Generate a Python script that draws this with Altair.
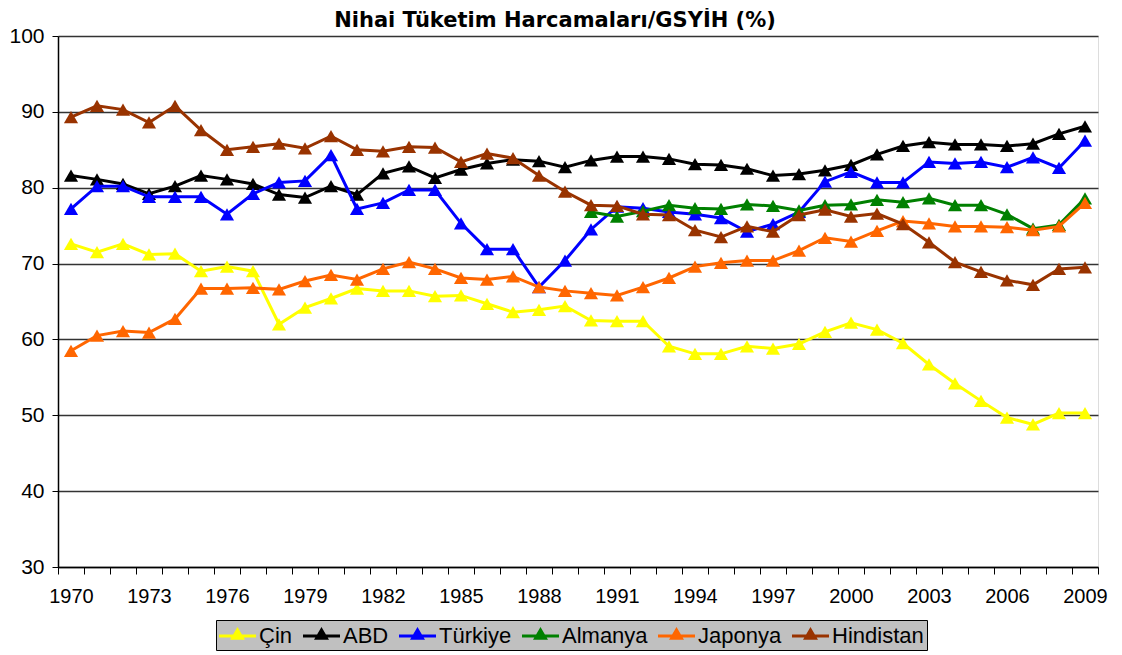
import altair as alt
import pandas as pd

years = list(range(1970, 2010))
almanya_years = list(range(1990, 2010))

series_names = ["Çin", "ABD", "Türkiye", "Almanya", "Japonya", "Hindistan"]
series_colors = ["#FFFF00", "#000000", "#0000FF", "#008000", "#FF6600", "#993300"]

cin = [72.6, 71.5, 72.6, 71.2, 71.3, 69.0, 69.6, 69.0, 62.0, 64.2,
       65.4, 66.7, 66.4, 66.4, 65.7, 65.8, 64.7, 63.6, 63.9, 64.4,
       62.5, 62.4, 62.4, 59.1, 58.1, 58.1, 59.1, 58.8, 59.4, 61.0,
       62.2, 61.3, 59.5, 56.7, 54.2, 51.9, 49.7, 48.8, 50.3, 50.3]
abd = [81.6, 81.1, 80.5, 79.2, 80.2, 81.6, 81.1, 80.5, 79.1, 78.7,
       80.2, 79.1, 81.9, 82.8, 81.3, 82.4, 83.2, 83.7, 83.5, 82.7,
       83.6, 84.1, 84.1, 83.8, 83.1, 83.0, 82.5, 81.6, 81.8, 82.3,
       83.0, 84.4, 85.5, 86.0, 85.7, 85.7, 85.5, 85.8, 87.1, 88.1]
turkiye = [77.2, 80.2, 80.2, 78.8, 78.8, 78.8, 76.5, 79.2, 80.7, 80.9,
           84.3, 77.2, 78.0, 79.7, 79.7, 75.3, 71.9, 71.9, 66.9, 70.4,
           74.5, 77.5, 77.3, 76.8, 76.5, 76.0, 74.2, 75.2, 76.8, 80.8,
           82.1, 80.7, 80.7, 83.4, 83.2, 83.4, 82.7, 84.0, 82.6, 86.2]
almanya = [76.8, 76.2, 76.9, 77.7, 77.3, 77.2, 77.8, 77.6, 77.0, 77.7,
           77.8, 78.4, 78.1, 78.6, 77.7, 77.7, 76.5, 74.6, 75.1, 78.6]
japonya = [58.5, 60.5, 61.1, 60.9, 62.7, 66.7, 66.7, 66.8, 66.6, 67.7,
           68.5, 67.9, 69.3, 70.2, 69.3, 68.1, 67.9, 68.3, 66.9, 66.4,
           66.1, 65.8, 66.9, 68.1, 69.6, 70.1, 70.4, 70.4, 71.7, 73.4,
           72.9, 74.3, 75.6, 75.3, 74.9, 74.9, 74.8, 74.4, 74.9, 78.0]
hindistan = [89.3, 90.8, 90.3, 88.6, 90.8, 87.6, 85.0, 85.4, 85.8, 85.2,
             86.8, 85.0, 84.8, 85.4, 85.3, 83.4, 84.5, 83.9, 81.6, 79.5,
             77.7, 77.6, 76.5, 76.4, 74.4, 73.5, 74.9, 74.2, 76.4, 77.1,
             76.2, 76.6, 75.2, 72.8, 70.2, 68.9, 67.8, 67.2, 69.3, 69.5]

y_ticks = [30, 40, 50, 60, 70, 80, 90, 100]
x_label_years = list(range(1970, 2010, 3))

series_data = [
    ("Çin", years, cin),
    ("ABD", years, abd),
    ("Türkiye", years, turkiye),
    ("Almanya", almanya_years, almanya),
    ("Japonya", years, japonya),
    ("Hindistan", years, hindistan),
]

rows = []
for name, yrs, vals in series_data:
    for yr, v in zip(yrs, vals):
        rows.append({"Yil": yr, "Ulke": name, "Deger": v})
df = pd.DataFrame(rows)

FONT = "Liberation Sans"

boundaries = [1969.5 + i for i in range(41)]

x_enc = alt.X(
    "Yil:Q",
    scale=alt.Scale(domain=[1969.5, 2009.5], nice=False, zero=False),
    axis=alt.Axis(
        title=None,
        values=boundaries + x_label_years,
        grid=False,
        labelExpr="datum.value % 1 == 0 ? format(datum.value, 'd') : ''",
        labelOverlap=False,
        labelFlush=False,
        labelFont=FONT,
        labelFontSize=20,
        labelColor="#000000",
        labelPadding=12,
        tickSize=7,
        tickColor="#000000",
        tickWidth=1,
        tickOpacity={"condition": {"test": "datum.value % 1 == 0", "value": 0}, "value": 1},
        domainColor="#000000",
        domainWidth=1.5,
    ),
)

y_enc = alt.Y(
    "Deger:Q",
    scale=alt.Scale(domain=[30, 100], nice=False, zero=False),
    axis=alt.Axis(
        title=None,
        values=y_ticks,
        grid=True,
        gridColor="#333333",
        gridWidth=1.5,
        labelFont=FONT,
        labelFontSize=21,
        labelColor="#000000",
        labelPadding=8,
        tickSize=6,
        tickColor="#000000",
        domainColor="#000000",
        domainWidth=1.5,
    ),
)

# legend symbol: a line with a triangle marker on it (unit box of the symbol is 26px)
legend_path = "M-1,-0.115H1.846V0.115H-1Z M0.423,-0.69L1,0.28H-0.154Z"

color_enc = alt.Color(
    "Ulke:N",
    scale=alt.Scale(domain=series_names, range=series_colors),
    sort=series_names,
    legend=alt.Legend(
        orient="none",
        legendX=158,
        legendY=584,
        direction="horizontal",
        columns=6,
        title=None,
        symbolType=legend_path,
        symbolSize=676,
        symbolStrokeWidth=0,
        symbolOpacity=1,
        labelFont=FONT,
        labelFontSize=22,
        labelColor="#000000",
        labelOffset=14,
        columnPadding=10,
        padding=3,
        fillColor="#C0C0C0",
        strokeColor="#000000",
    ),
)

base = alt.Chart(df)
layers = []
for name in series_names:
    sub = base.transform_filter(alt.datum.Ulke == name)
    layers.append(sub.mark_line(strokeWidth=3).encode(x=x_enc, y=y_enc, color=color_enc))
    layers.append(sub.mark_point(shape="triangle-up", filled=True, size=200, opacity=1)
                  .encode(x=x_enc, y=y_enc, color=color_enc))

# put a point layer first so the merged legend takes filled symbols
layers = [layers[1], layers[0]] + layers[2:]

chart = alt.layer(*layers).properties(
    width=1040,
    height=531,
    title=alt.TitleParams(
        "Nihai Tüketim Harcamaları/GSYİH (%)",
        font="DejaVu Sans",
        fontSize=21,
        fontWeight="bold",
        color="#000000",
        anchor="middle",
        dx=-23,
        dy=10,
        offset=4,
    ),
    autosize=alt.AutoSizeParams(type="none"),
    padding={"left": 50, "top": 28, "right": 16, "bottom": 88},
).configure_view(
    fill="#C0C0C0", stroke="#808080", strokeWidth=2
).configure(background="#FFFFFF")

chart.save("out.html", embed_options={"renderer": "svg", "actions": False})
